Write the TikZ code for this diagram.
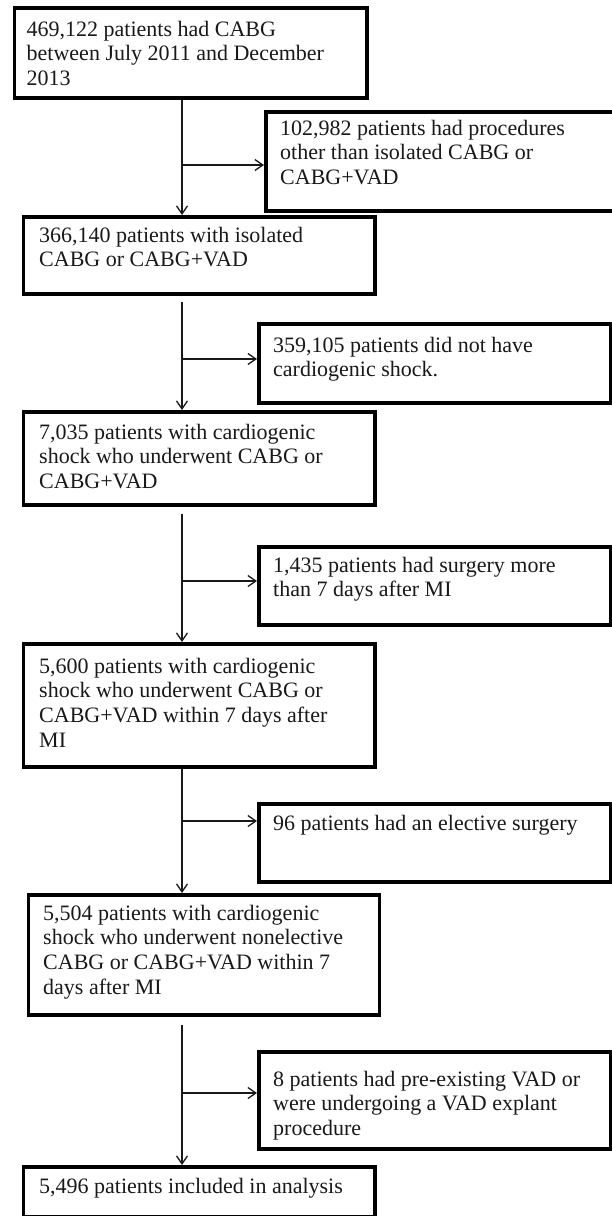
\documentclass[tikz,border=0pt]{standalone}
\usepackage{fontspec}
\setmainfont{Liberation Serif}
\usetikzlibrary{arrows.meta,calc}
\newcommand{\tx}[1]{\parbox[t]{340pt}{\raggedright #1}}
\begin{document}
\begin{tikzpicture}[x=1pt,y=-1pt,
  box/.style={draw=black, line width=3.6pt, rectangle, inner sep=0pt, anchor=north west, fill=white},
  txt/.style={anchor=base west, inner sep=0pt, text=black!90, font=\fontsize{22}{24.8}\selectfont},
  arr/.style={draw=black!90, line width=1.3pt, -{Straight Barb[length=8pt,width=11pt,line width=1.3pt]}}
]
\useasboundingbox[fill=white] (0,0) rectangle (611,1216);
\coordinate (spine) at (182,0);
% main boxes
\node[box, minimum width=352.5pt, minimum height=90pt] (b1) at (12.5,6) {};
\node[box, minimum width=351.5pt, minimum height=77pt] (b2) at (21.5,215) {};
\node[box, minimum width=351.5pt, minimum height=93pt] (b3) at (21.5,410) {};
\node[box, minimum width=351.5pt, minimum height=123pt] (b4) at (21.5,642) {};
\node[box, minimum width=351pt, minimum height=120pt] (b5) at (26.5,893) {};
\node[box, minimum width=351.5pt, minimum height=50pt] (b6) at (21.5,1165) {};
% side boxes
\node[box, minimum width=352pt, minimum height=99pt] (s1) at (264,110) {};
\node[box, minimum width=351.5pt, minimum height=79pt] (s2) at (257,322) {};
\node[box, minimum width=351.5pt, minimum height=78pt] (s3) at (257,545) {};
\node[box, minimum width=351.5pt, minimum height=78pt] (s4) at (257,802) {};
\node[box, minimum width=351.5pt, minimum height=97pt] (s5) at (257,1050) {};
% texts
\node[txt] (t1) at ([shift={(14,30)}]b1.north west) {\tx{469,122 patients had CABG\\between July 2011 and December\\2013}};
\node[txt] (t2) at ([shift={(17.5,27)}]b2.north west) {\tx{366,140 patients with isolated\\CABG or CABG+VAD}};
\node[txt] (t3) at ([shift={(17.5,29)}]b3.north west) {\tx{7,035 patients with cardiogenic\\shock who underwent CABG or\\CABG+VAD}};
\node[txt] (t4) at ([shift={(17.5,31)}]b4.north west) {\tx{5,600 patients with cardiogenic\\shock who underwent CABG or\\CABG+VAD within 7 days after\\MI}};
\node[txt] (t5) at ([shift={(16.5,27)}]b5.north west) {\tx{5,504 patients with cardiogenic\\shock who underwent nonelective\\CABG or CABG+VAD within 7\\days after MI}};
\node[txt] (t6) at ([shift={(17.5,28)}]b6.north west) {\tx{5,496 patients included in analysis}};
\node[txt] (u1) at ([shift={(16,25)}]s1.north west) {\tx{102,982 patients had procedures\\other than isolated CABG or\\CABG+VAD}};
\node[txt] (u2) at ([shift={(16,30)}]s2.north west) {\tx{359,105 patients did not have\\cardiogenic shock.}};
\node[txt] (u3) at ([shift={(16,27)}]s3.north west) {\tx{1,435 patients had surgery more\\than 7 days after MI}};
\node[txt] (u4) at ([shift={(16,28)}]s4.north west) {\tx{96 patients had an elective surgery}};
\node[txt] (u5) at ([shift={(16,36)}]s5.north west) {\tx{8 patients had pre-existing VAD or\\were undergoing a VAD explant\\procedure}};
% spine connectors
\draw[arr] (b1.south -| spine) -- (b2.north -| spine);
\draw[arr] ($(b2.south -| spine)+(0,6)$) -- (b3.north -| spine);
\draw[arr] ($(b3.south -| spine)+(0,7)$) -- (b4.north -| spine);
\draw[arr] (b4.south -| spine) -- (b5.north -| spine);
\draw[arr] ($(b5.south -| spine)+(0,8)$) -- (b6.north -| spine);
% branches
\coordinate (j1) at (182,165);
\coordinate (j2) at (182,359);
\coordinate (j3) at (182,581);
\coordinate (j4) at (182,821);
\coordinate (j5) at (182,1093);
\draw[arr] (j1) -- (j1 -| s1.west);
\draw[arr] (j2) -- (j2 -| s2.west);
\draw[arr] (j3) -- (j3 -| s3.west);
\draw[arr] (j4) -- (j4 -| s4.west);
\draw[arr] (j5) -- (j5 -| s5.west);
\end{tikzpicture}
\end{document}
